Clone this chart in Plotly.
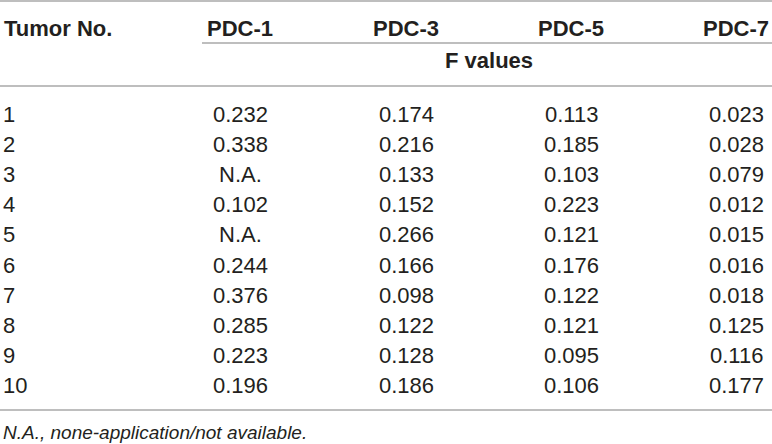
import plotly.graph_objects as go

# table data
tumor_no = [1, 2, 3, 4, 5, 6, 7, 8, 9, 10]
pdc1 = [0.232, 0.338, None, 0.102, None, 0.244, 0.376, 0.285, 0.223, 0.196]
pdc3 = [0.174, 0.216, 0.133, 0.152, 0.266, 0.166, 0.098, 0.122, 0.128, 0.186]
pdc5 = [0.113, 0.185, 0.103, 0.223, 0.121, 0.176, 0.122, 0.121, 0.095, 0.106]
pdc7 = [0.023, 0.028, 0.079, 0.012, 0.015, 0.016, 0.018, 0.125, 0.116, 0.177]
col_names = ["PDC-1", "PDC-3", "PDC-5", "PDC-7"]
first_header = "Tumor No."
span_label = "F values"
footnote = "N.A., none-application/not available."

W, H = 772, 444
FONT = "Liberation Sans, Arial, sans-serif"
TXT = "#231f20"
LINE = "#a8a8a8"

col_x = [240, 406, 571, 736]
row_y0 = 114.5
row_dy = 30.1


def fmt(v):
    return "N.A." if v is None else f"{v:.3f}"


fig = go.Figure()
ann = []

# header row
ann.append(dict(x=2, y=28, text="<b>%s</b>" % first_header, xanchor="left"))
for cx, name in zip(col_x, col_names):
    ann.append(dict(x=cx, y=28, text="<b>%s</b>" % name, xanchor="center"))
ann.append(dict(x=489, y=60, text="<b>%s</b>" % span_label, xanchor="center"))

# body
for i, t in enumerate(tumor_no):
    y = row_y0 + i * row_dy
    ann.append(dict(x=1, y=y, text=str(t), xanchor="left"))
    for cx, col in zip(col_x, [pdc1, pdc3, pdc5, pdc7]):
        ann.append(dict(x=cx, y=y, text=fmt(col[i]), xanchor="center"))

for a in ann:
    a.update(font=dict(family=FONT, size=22, color=TXT))

# footnote is set a bit smaller
ann.append(dict(x=1, y=432, text="<i>%s</i>" % footnote, xanchor="left",
                font=dict(family=FONT, size=19, color=TXT)))

for a in ann:
    a.update(xref="x", yref="y", yanchor="middle", showarrow=False)

shapes = []
for x0, y in [(0, 1), (202, 43), (0, 86), (0, 410)]:
    shapes.append(dict(type="line", xref="x", yref="y", x0=x0, x1=W, y0=y, y1=y,
                       line=dict(color=LINE, width=1.5)))

fig.update_layout(
    width=W, height=H,
    margin=dict(l=0, r=0, t=0, b=0),
    paper_bgcolor="white", plot_bgcolor="white",
    xaxis=dict(range=[0, W], visible=False, fixedrange=True),
    yaxis=dict(range=[H, 0], visible=False, fixedrange=True),
    annotations=ann, shapes=shapes,
    showlegend=False,
)

# page has a default 8px body margin, drop it so the figure fills the window
fig.write_html("out.html", config={"displayModeBar": False},
               post_script="document.body.style.margin='0';document.body.style.overflow='hidden';")
